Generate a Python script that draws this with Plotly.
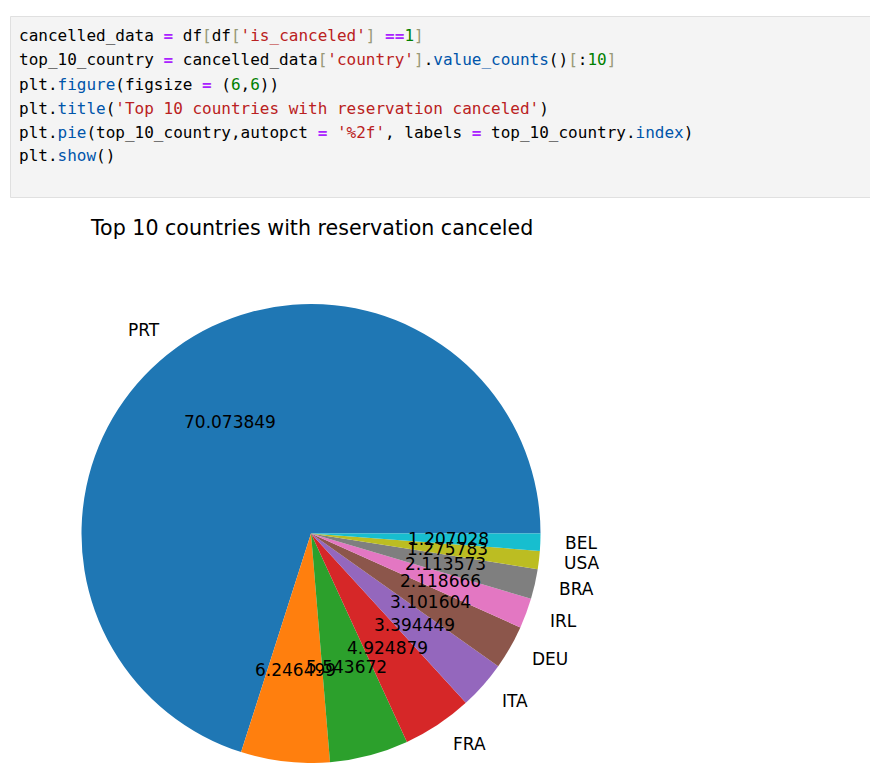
import math
import plotly.graph_objects as go

# ---- data ----
countries = ["PRT", "GBR", "ESP", "FRA", "ITA", "DEU", "IRL", "BRA", "USA", "BEL"]
pct_values = [70.073849, 6.246499, 5.543672, 4.924879, 3.394449,
              3.101604, 2.118666, 2.113573, 1.275783, 1.207028]
slice_colors = ["#1f77b4", "#ff7f0e", "#2ca02c", "#d62728", "#9467bd",
                "#8c564b", "#e377c2", "#7f7f7f", "#bcbd22", "#17becf"]
chart_title = "Top 10 countries with reservation canceled"

# ---- code cell text (syntax highlighted) ----
K = "#000000"
OP = "#aa22ff"
ST = "#ba2121"
NU = "#008000"
BR = "#999977"
PR = "#0055aa"
code_lines = [
    [("cancelled_data ", K), ("=", OP), (" df", K), ("[", BR), ("df", K), ("[", BR),
     ("'is_canceled'", ST), ("]", BR), (" ", K), ("==", OP), ("1", NU), ("]", BR)],
    [("top_10_country ", K), ("=", OP), (" cancelled_data", K), ("[", BR), ("'country'", ST),
     ("]", BR), (".", K), ("value_counts", PR), ("()", K), ("[", BR), (":", K), ("10", NU), ("]", BR)],
    [("plt.", K), ("figure", PR), ("(figsize ", K), ("=", OP), (" (", K), ("6", NU), (",", K),
     ("6", NU), ("))", K)],
    [("plt.", K), ("title", PR), ("(", K), ("'Top 10 countries with reservation canceled'", ST), (")", K)],
    [("plt.", K), ("pie", PR), ("(top_10_country,autopct ", K), ("=", OP), (" ", K), ("'%2f'", ST),
     (", labels ", K), ("=", OP), (" top_10_country.", K), ("index", PR), (")", K)],
    [("plt.", K), ("show", PR), ("()", K)],
]

W, H = 870, 763


def px_x(x):
    return x / W


def px_y(y):
    return 1 - y / H


# pie geometry (pixels)
r_px = 229.5
cx_px = 311.0
cy_px = H - r_px

total = sum(pct_values)
# plotly 'counterclockwise' places the first slice clockwise of `rotation`;
# shift so the first slice starts at 3 o'clock and runs counterclockwise (matplotlib default)
pie_rotation = 90 - 360.0 * pct_values[0] / total

fig = go.Figure()
fig.add_trace(go.Pie(
    values=pct_values,
    labels=countries,
    marker=dict(colors=slice_colors, line=dict(width=0)),
    sort=False,
    direction="counterclockwise",
    rotation=pie_rotation,
    textinfo="none",
    hoverinfo="label+value",
    showlegend=False,
    domain=dict(x=[px_x(cx_px - r_px), px_x(cx_px + r_px)], y=[0, px_y(cy_px - r_px)]),
))

annotations = []
cum = 0.0
for name, v in zip(countries, pct_values):
    a0 = cum / total * 360.0
    cum += v
    a1 = cum / total * 360.0
    th = math.radians((a0 + a1) / 2)
    c, s = math.cos(th), math.sin(th)
    # percentage label at 0.6 r
    annotations.append(dict(
        x=px_x(cx_px + 0.6 * r_px * c), y=px_y(cy_px - 0.6 * r_px * s),
        xref="paper", yref="paper", text="%f" % v, showarrow=False,
        xanchor="center", yanchor="middle",
        font=dict(family="DejaVu Sans", size=17, color="#000000")))
    # category label at 1.1 r
    annotations.append(dict(
        x=px_x(cx_px + 1.1 * r_px * c), y=px_y(cy_px - 1.1 * r_px * s),
        xref="paper", yref="paper", text=name, showarrow=False,
        xanchor="left" if c > 0 else "right", yanchor="middle",
        font=dict(family="DejaVu Sans", size=17, color="#000000")))

# title
annotations.append(dict(
    x=px_x(cx_px), y=px_y(228), xref="paper", yref="paper", text=chart_title,
    showarrow=False, xanchor="center", yanchor="middle",
    font=dict(family="DejaVu Sans", size=20.6, color="#000000")))

# code lines
for i, parts in enumerate(code_lines):
    txt = "".join(
        ('<span style="color:%s"><b>%s</b></span>' % (col, t)) if col == OP
        else ('<span style="color:%s">%s</span>' % (col, t))
        for t, col in parts)
    annotations.append(dict(
        x=px_x(17), y=px_y(36 + 24 * i), xref="paper", yref="paper", text=txt,
        showarrow=False, xanchor="left", yanchor="middle",
        font=dict(family="DejaVu Sans Mono", size=16, color="#000000")))

fig.update_layout(
    width=W, height=H,
    margin=dict(l=0, r=0, t=0, b=0),
    paper_bgcolor="white", plot_bgcolor="white",
    annotations=annotations,
    shapes=[dict(type="rect", xref="paper", yref="paper",
                 x0=px_x(10.5), x1=1.02, y0=px_y(197.5), y1=px_y(16.5),
                 fillcolor="#f4f4f4", line=dict(color="#e0e0e0", width=1),
                 layer="below")],
)

fig.write_html("out.html")
